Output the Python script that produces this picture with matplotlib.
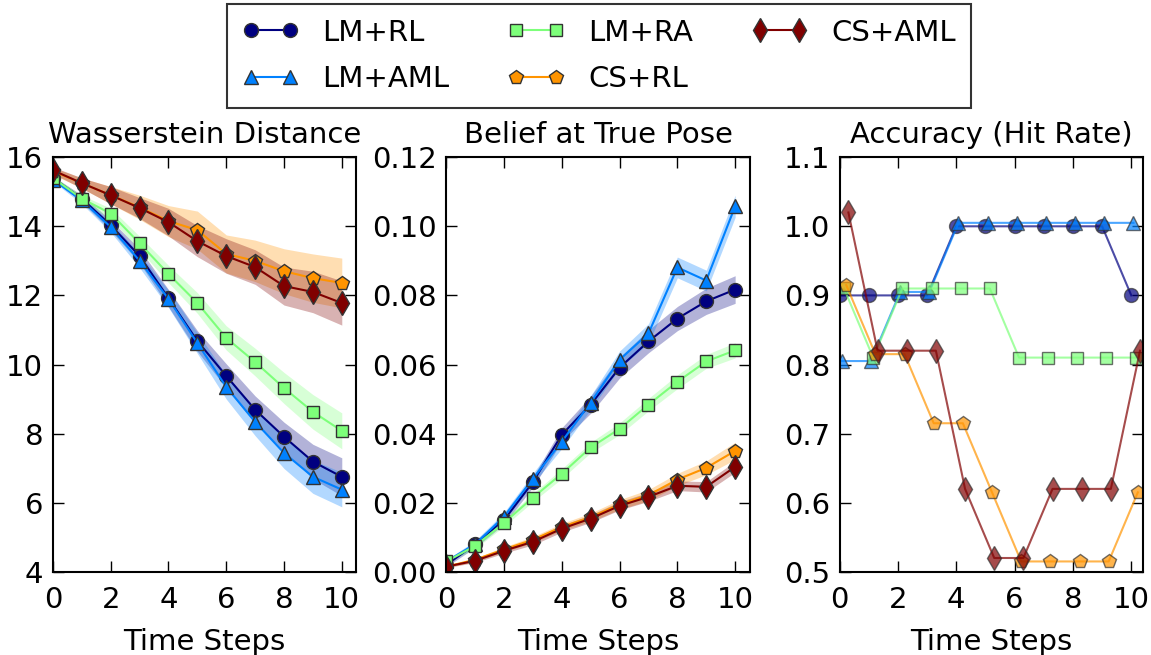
import numpy as np
import matplotlib.pyplot as plt
from matplotlib import cm

steps = np.arange(11)
methods = ['LM+RL', 'LM+AML', 'LM+RA', 'CS+RL', 'CS+AML']

# Wasserstein distance (mean, std)
wass_lm_rl = [15.4, 14.8, 14.03, 13.14, 11.92, 10.68, 9.67, 8.69, 7.91, 7.19, 6.75]
wass_lm_aml = [15.35, 14.75, 13.98, 13.0, 11.9, 10.62, 9.35, 8.34, 7.44, 6.75, 6.38]
wass_lm_ra = [15.4, 14.8, 14.37, 13.51, 12.62, 11.78, 10.77, 10.07, 9.32, 8.63, 8.08]
wass_cs_rl = [15.6, 15.25, 14.9, 14.55, 14.15, 13.89, 13.2, 13.0, 12.7, 12.5, 12.36]
wass_cs_aml = [15.62, 15.25, 14.9, 14.53, 14.12, 13.57, 13.14, 12.82, 12.27, 12.1, 11.78]
wass_sd_lm_rl = [0.05, 0.1, 0.15, 0.2, 0.25, 0.3, 0.35, 0.4, 0.42, 0.5, 0.55]
wass_sd_lm_aml = [0.05, 0.1, 0.15, 0.2, 0.25, 0.3, 0.35, 0.4, 0.45, 0.48, 0.5]
wass_sd_lm_ra = [0.05, 0.1, 0.15, 0.2, 0.25, 0.3, 0.35, 0.4, 0.45, 0.5, 0.52]
wass_sd_cs_rl = [0.1, 0.15, 0.25, 0.35, 0.45, 0.55, 0.55, 0.6, 0.65, 0.7, 0.72]
wass_sd_cs_aml = [0.1, 0.15, 0.25, 0.3, 0.4, 0.45, 0.5, 0.5, 0.55, 0.6, 0.64]

# belief at the true pose (mean, std)
bel_lm_rl = [0.002, 0.008, 0.015, 0.026, 0.0397, 0.0484, 0.0591, 0.0667, 0.0733, 0.0783, 0.0817]
bel_lm_aml = [0.003, 0.008, 0.016, 0.027, 0.0377, 0.049, 0.0614, 0.069, 0.0881, 0.0843, 0.1058]
bel_lm_ra = [0.003, 0.0075, 0.0142, 0.0215, 0.0284, 0.036, 0.0414, 0.0484, 0.055, 0.0609, 0.0641]
bel_cs_rl = [0.0015, 0.0035, 0.0065, 0.0093, 0.013, 0.0158, 0.0195, 0.0222, 0.0267, 0.0301, 0.035]
bel_cs_aml = [0.0015, 0.0032, 0.0061, 0.0087, 0.0125, 0.0154, 0.0191, 0.0217, 0.0249, 0.0246, 0.0304]
bel_sd_lm_rl = [0.0005, 0.001, 0.0012, 0.0015, 0.002, 0.0025, 0.003, 0.0033, 0.0035, 0.0038, 0.004]
bel_sd_lm_aml = [0.0005, 0.001, 0.0012, 0.0015, 0.002, 0.002, 0.0025, 0.0028, 0.003, 0.003, 0.0032]
bel_sd_lm_ra = [0.0005, 0.0008, 0.001, 0.0012, 0.0014, 0.0015, 0.0017, 0.0018, 0.002, 0.002, 0.0022]
bel_sd_cs_rl = [0.0003, 0.0005, 0.0007, 0.0009, 0.001, 0.0012, 0.0014, 0.0016, 0.0018, 0.002, 0.0025]
bel_sd_cs_aml = [0.0003, 0.0005, 0.0007, 0.0009, 0.001, 0.0011, 0.0012, 0.0013, 0.0014, 0.0015, 0.0016]

# hit rate
acc_lm_rl = [0.9, 0.9, 0.9, 0.9, 1.0, 1.0, 1.0, 1.0, 1.0, 1.0, 0.9]
acc_lm_aml = [0.805, 0.805, 0.905, 0.905, 1.005, 1.005, 1.005, 1.005, 1.005, 1.005, 1.005]
acc_lm_ra = [0.91, 0.81, 0.91, 0.91, 0.91, 0.91, 0.81, 0.81, 0.81, 0.81, 0.81]
acc_cs_rl = [0.915, 0.815, 0.815, 0.715, 0.715, 0.615, 0.515, 0.515, 0.515, 0.515, 0.615]
acc_cs_aml = [1.02, 0.82, 0.82, 0.82, 0.62, 0.52, 0.52, 0.62, 0.62, 0.62, 0.82]

wass = [wass_lm_rl, wass_lm_aml, wass_lm_ra, wass_cs_rl, wass_cs_aml]
wass_sd = [wass_sd_lm_rl, wass_sd_lm_aml, wass_sd_lm_ra, wass_sd_cs_rl, wass_sd_cs_aml]
bel = [bel_lm_rl, bel_lm_aml, bel_lm_ra, bel_cs_rl, bel_cs_aml]
bel_sd = [bel_sd_lm_rl, bel_sd_lm_aml, bel_sd_lm_ra, bel_sd_cs_rl, bel_sd_cs_aml]
acc = [acc_lm_rl, acc_lm_aml, acc_lm_ra, acc_cs_rl, acc_cs_aml]

markers = ['o', '^', 's', 'p', 'd']
msizes = [10, 10, 9, 10, 12]
colors = [cm.jet(v) for v in np.linspace(0, 1, len(methods))]

FS = 21
plt.rcParams['font.family'] = 'DejaVu Sans'
plt.rcParams['font.size'] = FS

fig, axs = plt.subplots(1, 3, figsize=(11.51, 6.55), dpi=100)
fig.subplots_adjust(left=0.046, right=0.993, bottom=0.127, top=0.760, wspace=0.297)

def draw_panel(ax, means, sds, shift=0.0, alpha=1.0):
    lines = []
    for i, m in enumerate(methods):
        x = steps + i * shift
        y = np.array(means[i])
        if sds is not None:
            s = np.array(sds[i])
            ax.fill_between(x, y - s, y + s, color=colors[i], alpha=0.3, lw=0)
        ln, = ax.plot(x, y, color=colors[i], lw=1.5, marker=markers[i],
                      ms=msizes[i], mec='0.2', mew=1, alpha=alpha, label=m)
        lines.append(ln)
    return lines

handles = draw_panel(axs[0], wass, wass_sd)
draw_panel(axs[1], bel, bel_sd)
draw_panel(axs[2], acc, None, shift=0.075, alpha=0.7)

axs[0].set_title('Wasserstein Distance', fontsize=FS, pad=10)
axs[0].set_ylim(4, 16)
axs[0].set_yticks(np.arange(4, 17, 2))
axs[0].set_xlim(0, 10.5)

axs[1].set_title('Belief at True Pose', fontsize=FS, pad=10)
axs[1].set_ylim(0, 0.12)
axs[1].set_yticks(np.arange(0, 0.121, 0.02))
axs[1].yaxis.set_major_formatter(plt.FormatStrFormatter('%.2f'))
axs[1].set_xlim(0, 10.5)

axs[2].set_title('Accuracy (Hit Rate)', fontsize=FS, pad=10)
axs[2].set_ylim(0.5, 1.1)
axs[2].set_yticks(np.arange(0.5, 1.11, 0.1))
axs[2].yaxis.set_major_formatter(plt.FormatStrFormatter('%.1f'))
axs[2].set_xlim(0, 10.4)

for ax in axs:
    ax.set_xticks(np.arange(0, 11, 2))
    ax.set_xlabel('Time Steps', fontsize=FS, labelpad=10)
    ax.tick_params(direction='in', top=True, right=True, length=8, width=1, labelsize=FS)
    ax.tick_params(axis='x', pad=10)
    ax.tick_params(axis='y', pad=7)
    for sp in ax.spines.values():
        sp.set_linewidth(1.5)

leg = fig.legend(handles=handles, loc='upper center', bbox_to_anchor=(0.5204, 0.994),
                 ncol=3, numpoints=2, fancybox=False, fontsize=FS, borderaxespad=0,
                 handlelength=1.95, columnspacing=2.0, borderpad=0.5, labelspacing=0.65)
leg.get_frame().set_edgecolor('black')
leg.get_frame().set_linewidth(1.5)

plt.savefig('out.png')
